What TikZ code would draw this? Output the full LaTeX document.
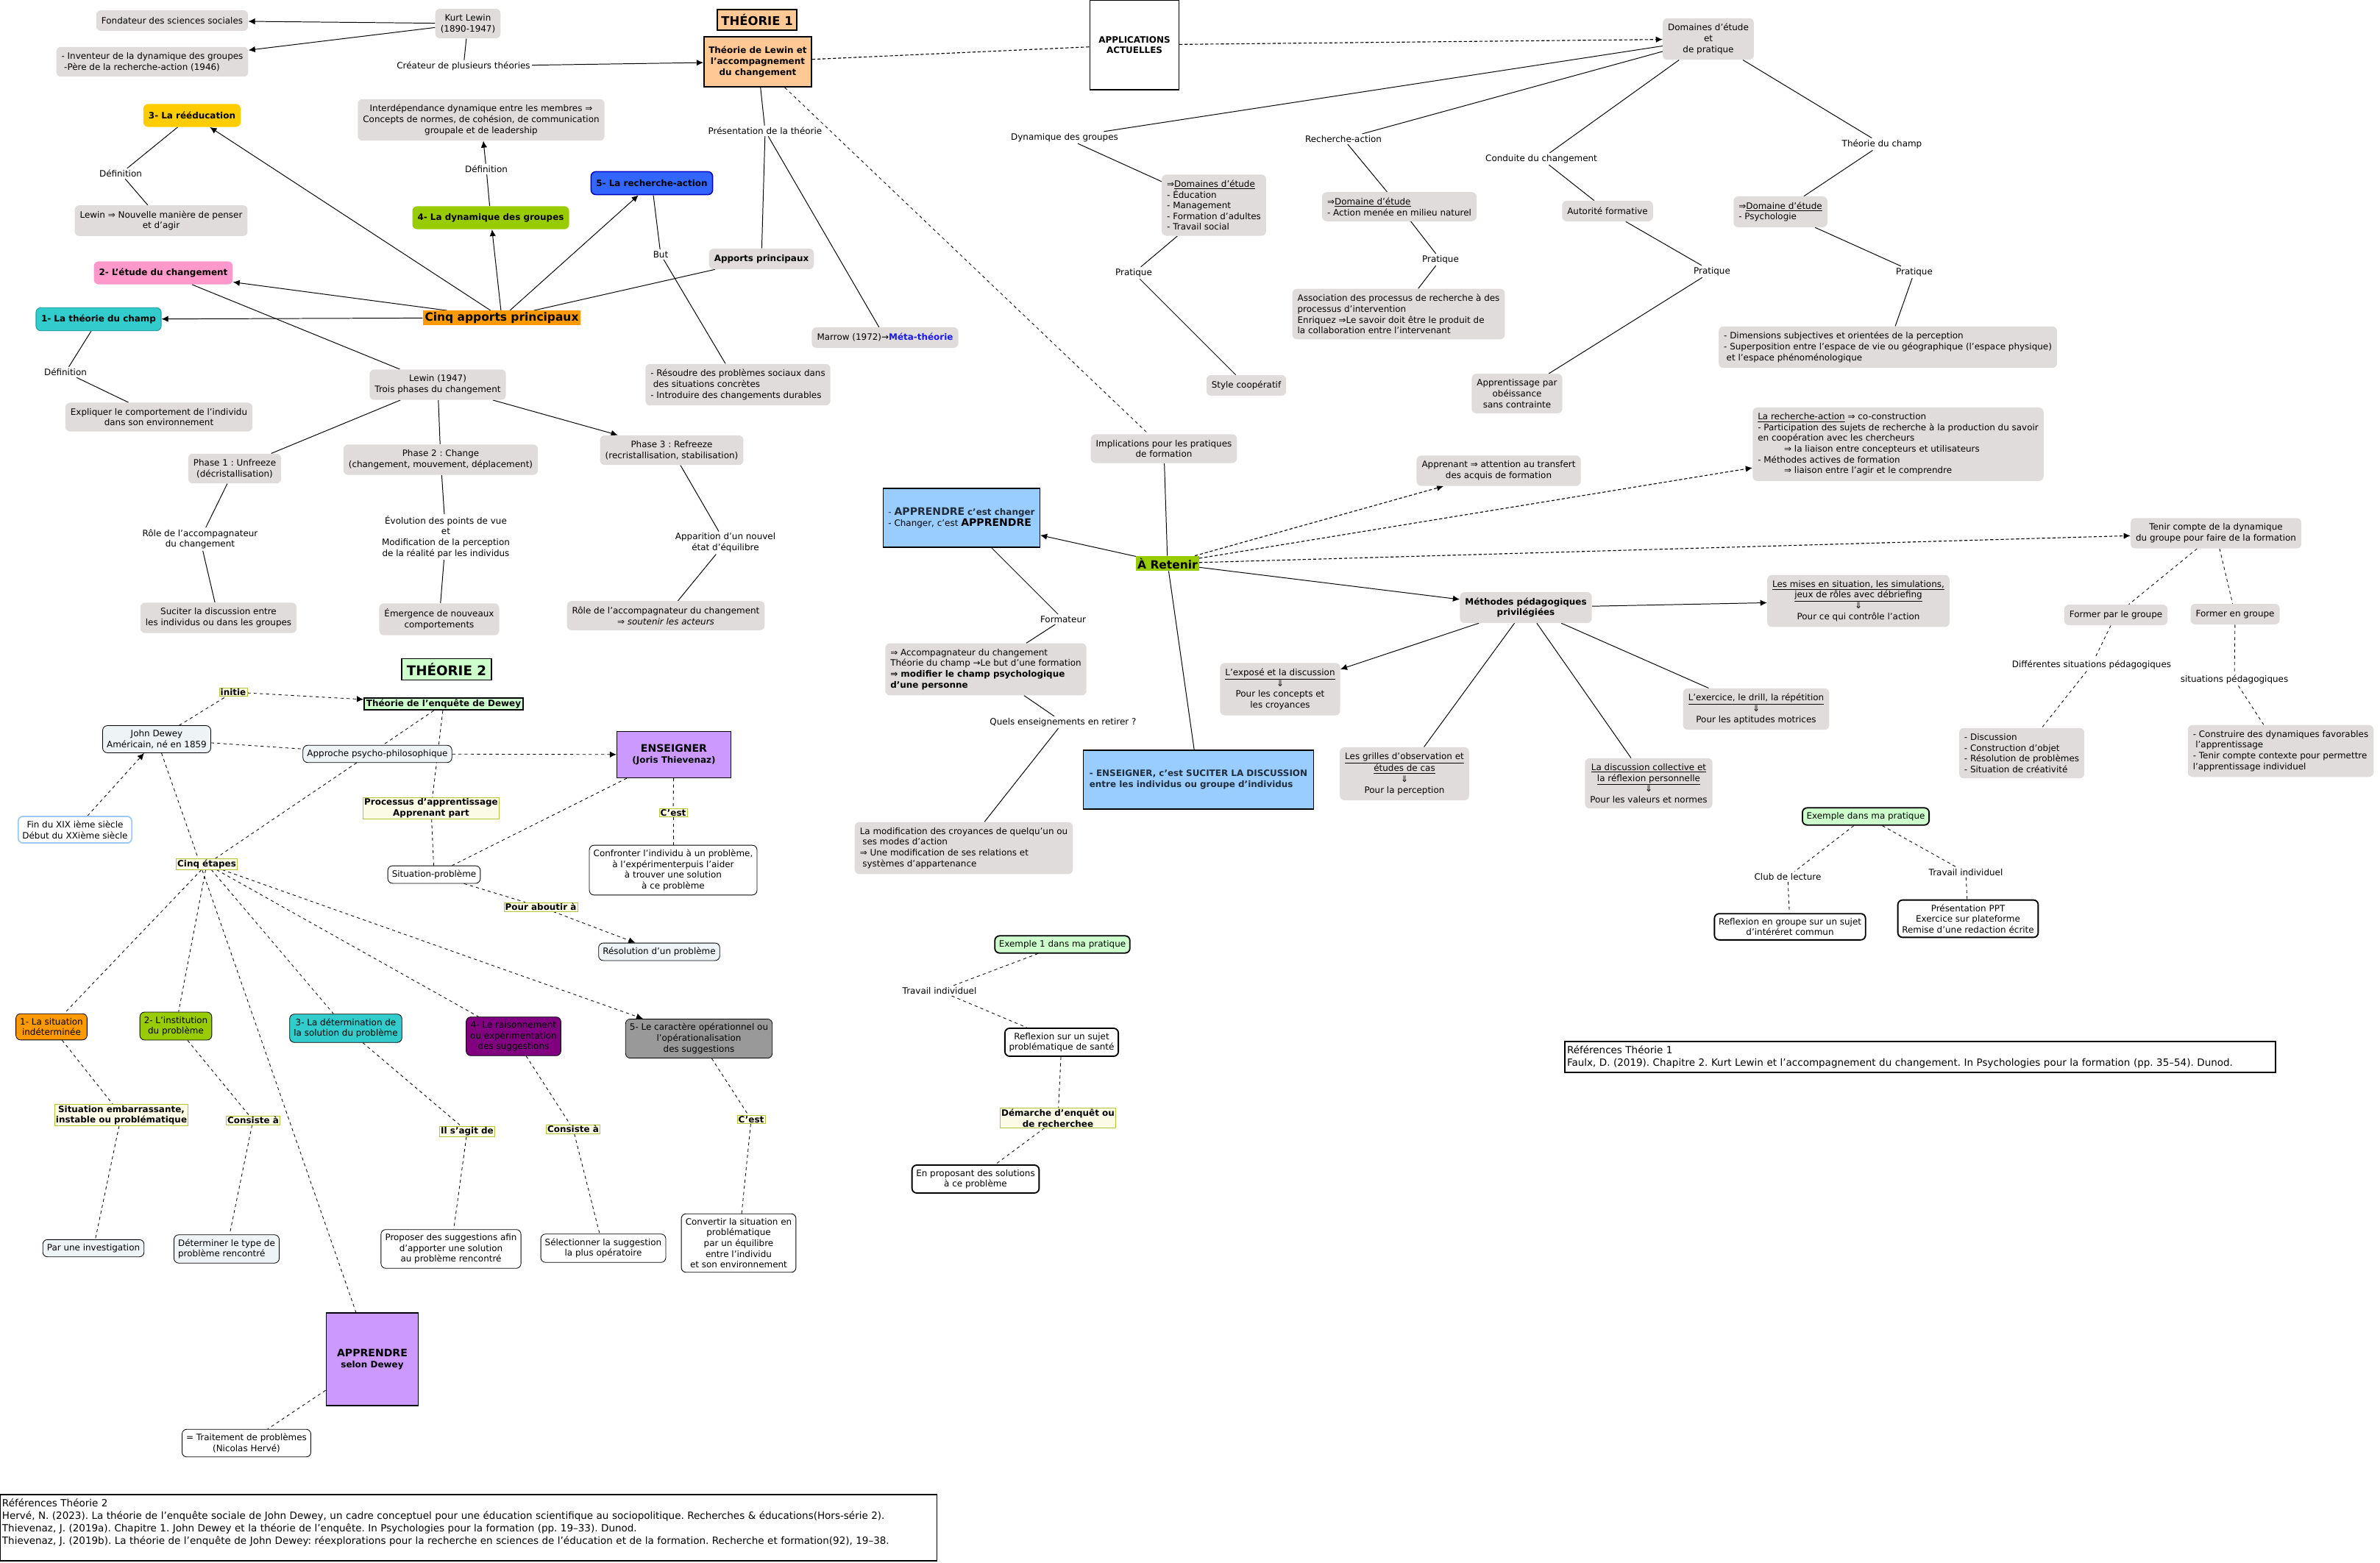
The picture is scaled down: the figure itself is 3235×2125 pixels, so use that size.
\documentclass[tikz,border=0pt]{standalone}
\usepackage{fontspec}
\setmainfont{DejaVu Sans}
\usepackage{xcolor}
\usepackage{tikz}
\usetikzlibrary{positioning,arrows.meta}
\frenchspacing

\pgfdeclarelayer{background}
\pgfsetlayers{background,main}

\definecolor{boxgray}{HTML}{E0DCDC}
\definecolor{peach}{HTML}{FFC895}
\definecolor{orangeT}{HTML}{FF9900}
\definecolor{goldT}{HTML}{FFCC00}
\definecolor{limeT}{HTML}{99CC00}
\definecolor{blueT}{HTML}{3366FF}
\definecolor{pinkT}{HTML}{FF99CC}
\definecolor{tealT}{HTML}{33CCCC}
\definecolor{skyT}{HTML}{99CCFF}
\definecolor{mintT}{HTML}{CCFFCC}
\definecolor{lilacT}{HTML}{CC99FF}
\definecolor{plumT}{HTML}{800080}
\definecolor{greyT}{HTML}{999999}
\definecolor{dewfill}{HTML}{EEF3F5}
\definecolor{tagfill}{HTML}{FCFCE6}
\definecolor{tagline}{HTML}{B4C43C}
\definecolor{metablue}{HTML}{1A1AE6}
\definecolor{inkslate}{HTML}{1F2D3D}
\definecolor{finline}{HTML}{9CC8F0}

\newcommand{\mapfont}{\fontsize{8.5}{10.4}\selectfont}
\newcommand{\mapbig}{\fontsize{11}{13}\selectfont}
\newcommand{\mapappr}{\fontsize{10}{11}\selectfont}
\newcommand{\maptitle}{\fontsize{11.7}{14}\selectfont}
\newcommand{\maptitlel}{\fontsize{13}{15}\selectfont}
\newcommand{\mapref}{\fontsize{9.6}{11.9}\selectfont\frenchspacing}

\tikzset{
  gbox/.style={fill=boxgray, rounded corners=1.6mm, inner xsep=5pt, inner ysep=5.4pt, minimum height=7mm, align=center, font=\mapfont},
  gleft/.style={gbox, align=left},
  keybox/.style={gbox, minimum height=7.8mm, font=\mapfont\bfseries},
  lbl/.style={inner sep=1.5pt, align=center, font=\mapfont},
  tagbox/.style={draw=tagline, fill=tagfill, line width=0.6pt, inner xsep=1.2pt, inner ysep=0.8pt, align=center, font=\mapfont\bfseries},
  wbox/.style={draw, line width=0.6pt, fill=white, rounded corners=1.6mm, inner xsep=4pt, inner ysep=4.2pt, align=center, font=\mapfont},
  dbox/.style={wbox, fill=dewfill},
  stepbox/.style={wbox},
  thickbox/.style={wbox, line width=1.3pt},
  titlebox/.style={draw, line width=1.4pt, inner sep=2pt, align=center, font=\mapfont\bfseries},
  plainbox/.style={draw, line width=0.8pt, align=left, font=\mapfont},
  link/.style={line width=0.7pt},
  dlink/.style={line width=0.6pt, dashed},
  dlinkb/.style={line width=0.8pt, dash pattern=on 3pt off 2pt},
}

\begin{document}
\begin{tikzpicture}[x=0.25mm, y=-0.25mm, >={Latex[length=6.5pt,width=6pt]}]
  \useasboundingbox (0,0) rectangle (3235,2125);

  % Theorie 1 : Lewin
  \node[gbox] (kl) at (636,32) {Kurt Lewin\\(1890-1947)};
  \node[gbox] (fond) at (234,28) {Fondateur des sciences sociales};
  \node[gleft] (inv) at (207,84) {- Inventeur de la dynamique des groupes\\\hspace*{0.3em}-Père de la recherche-action (1946)};
  \node[lbl] (creat) at (630,90) {Créateur de plusieurs théories};
  \node[titlebox, fill=peach, minimum width=27mm, minimum height=7mm, font=\maptitle\bfseries] (tone) at (1029,27) {THÉORIE 1};
  \node[titlebox, fill=peach, minimum width=36.5mm, minimum height=17mm] (tlewin) at (1030,84) {Théorie de Lewin et\\l'accompagnement\\du changement};
  \node[lbl] (presth) at (1040,178) {Présentation de la théorie};
  \node[gbox, font=\mapfont\bfseries] (apports) at (1035,352) {Apports principaux};
  \node[gbox] (marrow) at (1203,459) {Marrow (1972)→\textcolor{metablue}{\bfseries Méta-théorie}};
  \node[fill=orangeT, inner xsep=2pt, inner ysep=1.5pt, font=\mapbig\bfseries] (cinq) at (682,432) {Cinq apports principaux};

  \node[keybox, fill=tealT, draw=tealT!80!black, line width=0.8pt] (champ) at (134,434) {1- La théorie du champ};
  \node[keybox, fill=pinkT] (etude) at (222,371) {2- L’étude du changement};
  \node[keybox, fill=goldT] (reedu) at (261,157) {3- La rééducation};
  \node[keybox, fill=limeT] (dyn) at (667,296) {4- La dynamique des groupes};
  \node[keybox, fill=blueT, draw=blue!75!black, line width=1.1pt] (ract) at (886,249) {5- La recherche-action};

  \node[lbl] (defre) at (164,236) {Définition};
  \node[gbox] (nouv) at (219,300) {Lewin ⇒ Nouvelle manière de penser\\et d’agir};
  \node[lbl] (defdyn) at (661,230) {Définition};
  \node[gbox] (interd) at (654,163) {Interdépendance dynamique entre les membres ⇒\\Concepts de normes, de cohésion, de communication\\groupale et de leadership};
  \node[lbl] (but) at (898,346) {But};
  \node[gleft] (resou) at (1003,523) {- Résoudre des problèmes sociaux dans\\\hspace*{0.3em}des situations concrètes\\- Introduire des changements durables};
  \node[lbl] (defch) at (89,506) {Définition};
  \node[gbox] (expl) at (216,567) {Expliquer le comportement de l’individu\\dans son environnement};

  \node[gbox] (lewsept) at (595,523) {Lewin (1947)\\Trois phases du changement};
  \node[gbox] (phone) at (319,637) {Phase 1 : Unfreeze\\(décristallisation)};
  \node[gbox] (phtwo) at (599,625) {Phase 2 : Change\\(changement, mouvement, déplacement)};
  \node[gbox] (phthree) at (913,612) {Phase 3 : Refreeze\\(recristallisation, stabilisation)};
  \node[lbl] (roleone) at (272,733) {Rôle de l’accompagnateur\\du changement};
  \node[gbox] (suc) at (297,840) {Suciter la discussion entre\\les individus ou dans les groupes};
  \node[lbl] (evol) at (606,730) {Évolution des points de vue\\et\\Modification de la perception\\de la réalité par les individus};
  \node[gbox] (emer) at (597,842) {Émergence de nouveaux\\comportements};
  \node[lbl] (appar) at (986,738) {Apparition d'un nouvel\\état d’équilibre};
  \node[gbox] (rolethree) at (905,837) {Rôle de l’accompagnateur du changement\\⇒ \textit{soutenir les acteurs}};

  % Applications actuelles
  \node[draw, line width=0.8pt, fill=white, align=center, font=\mapfont\bfseries, minimum width=30.25mm, minimum height=30.5mm] (appl) at (1542,61) {APPLICATIONS\\ACTUELLES};
  \node[gbox] (dom) at (2322,53) {Domaines d’étude\\et\\de pratique};
  \node[lbl] (ldyn) at (1447,187) {Dynamique des groupes};
  \node[gleft] (doms) at (1650,279) {⇒\underline{Domaines d'étude}\\- Éducation\\- Management\\- Formation d’adultes\\- Travail social};
  \node[lbl] (pratone) at (1541,371) {Pratique};
  \node[gbox] (style) at (1694,524) {Style coopératif};
  \node[lbl] (lrech) at (1826,189) {Recherche-action};
  \node[gleft] (domra) at (1902,281) {⇒\underline{Domaine d'étude}\\- Action menée en milieu naturel};
  \node[lbl] (prattwo) at (1958,353) {Pratique};
  \node[gleft] (assoc) at (1901,427) {Association des processus de recherche à des\\processus d’intervention\\Enriquez ⇒Le savoir doit être le produit de\\la collaboration entre l’intervenant};
  \node[lbl] (lcond) at (2095,216) {Conduite du changement};
  \node[gbox] (autor) at (2185,287) {Autorité formative};
  \node[lbl] (pratthree) at (2327,369) {Pratique};
  \node[gbox] (obeis) at (2062,535) {Apprentissage par\\obéissance\\sans contrainte};
  \node[lbl] (lchamp) at (2558,196) {Théorie du champ};
  \node[gleft] (dompsy) at (2420,288) {⇒\underline{Domaine d'étude}\\- Psychologie};
  \node[lbl] (pratfour) at (2602,370) {Pratique};
  \node[gleft] (dimens) at (2566,472) {- Dimensions subjectives et orientées de la perception\\- Superposition entre l’espace de vie ou géographique (l’espace physique)\\\hspace*{0.3em}et l’espace phénoménologique};

  % A retenir
  \node[gbox] (impl) at (1582,610) {Implications pour les pratiques\\de formation};
  \node[fill=limeT, inner xsep=1.5pt, inner ysep=2pt, font=\mapbig\bfseries] (retenir) at (1587,766) {À Retenir};
  \node[draw, line width=0.8pt, fill=skyT, minimum width=53.25mm, minimum height=20mm, align=left, inner xsep=1.5pt, font=\mapfont] (apprchg) at (1307,704) {\textcolor{inkslate}{- \textbf{\mapappr APPRENDRE} \textbf{c’est changer}}\\- Changer, c’est \textbf{\mapappr APPRENDRE}};
  \node[gbox] (apprenant) at (2037,640) {Apprenant ⇒ attention au transfert\\des acquis de formation};
  \node[gleft] (rechco) at (2580,604) {\underline{La recherche-action} ⇒ co-construction\\- Participation des sujets de recherche à la production du savoir\\en coopération avec les chercheurs\\\hspace*{3em}⇒ la liaison entre concepteurs et utilisateurs\\- Méthodes actives de formation\\\hspace*{3em}⇒ liaison entre l’agir et le comprendre};
  \node[gbox] (tenir) at (3012,725) {Tenir compte de la dynamique\\du groupe pour faire de la formation};
  \node[gbox, font=\mapfont\bfseries] (methodes) at (2074,826) {Méthodes pédagogiques\\privilégiées};
  \node[lbl] (formateur) at (1445,842) {Formateur};
  \node[gleft] (accomp) at (1340,910) {⇒ Accompagnateur du changement\\Théorie du champ →Le but d’une formation\\\textbf{⇒ modifier le champ psychologique}\\\textbf{d’une personne}};
  \node[lbl] (quels) at (1445,982) {Quels enseignements en retirer ?};
  \node[gleft] (modif) at (1310,1153) {La modification des croyances de quelqu’un ou\\\hspace*{0.3em}ses modes d’action\\⇒ Une modification de ses relations et\\\hspace*{0.3em}systèmes d’appartenance};
  \node[draw, line width=0.8pt, fill=skyT, minimum width=78.25mm, minimum height=20mm, align=left, inner xsep=1.5pt, font=\mapfont\bfseries, text=inkslate] (enseigdisc) at (1629,1060) {- ENSEIGNER, c’est SUCITER LA DISCUSSION\\entre les individus ou groupe d’individus};
  \node[gbox] (expose) at (1740,937) {\underline{L’exposé et la discussion}\\⇓\\Pour les concepts et\\les croyances};
  \node[gbox] (grilles) at (1909,1052) {\underline{Les grilles d’observation et}\\\underline{études de cas}\\⇓\\Pour la perception};
  \node[gbox] (discoll) at (2241,1065) {\underline{La discussion collective et}\\\underline{la réflexion personnelle}\\⇓\\Pour les valeurs et normes};
  \node[gbox] (exerc) at (2387,964) {\underline{L’exercice, le drill, la répétition}\\⇓\\Pour les aptitudes motrices};
  \node[gbox] (mises) at (2526,817) {\underline{Les mises en situation, les simulations,}\\\underline{jeux de rôles avec débriefing}\\⇓\\Pour ce qui contrôle l’action};
  \node[gbox] (fparg) at (2876,836) {Former par le groupe};
  \node[gbox] (fen) at (3038,835) {Former en groupe};
  \node[lbl] (ldiff) at (2843,904) {Différentes situations pédagogiques};
  \node[lbl] (lsit) at (3037,924) {situations pédagogiques};
  \node[gleft] (discu) at (2748,1024) {- Discussion\\- Construction d’objet\\- Résolution de problèmes\\- Situation de créativité};
  \node[gleft] (constr) at (3100,1021) {- Construire des dynamiques favorables\\\hspace*{0.3em}l’apprentissage\\- Tenir compte contexte pour permettre\\l’apprentissage individuel};
  \node[thickbox, fill=mintT] (exemple) at (2536,1110) {Exemple dans ma pratique};
  \node[lbl] (lclub) at (2430,1192) {Club de lecture};
  \node[thickbox] (refgrp) at (2433,1260) {Reflexion en groupe sur un sujet\\d'intéréret commun};
  \node[lbl] (ltrav) at (2672,1186) {Travail individuel};
  \node[thickbox] (pptx) at (2675,1249) {Présentation PPT\\Exercice sur plateforme\\Remise d'une redaction écrite};
  \node[plainbox, line width=1.2pt, font=\mapref, inner xsep=2pt, inner ysep=2pt, text width=240mm, minimum height=10.5mm] (refone) at (2610,1437) {Références Théorie 1\\Faulx, D. (2019). Chapitre 2. Kurt Lewin et l’accompagnement du changement. In Psychologies pour la formation (pp. 35–54). Dunod.};

  % Theorie 2 : Dewey
  \node[titlebox, fill=mintT, minimum width=30.5mm, minimum height=7.25mm, font=\maptitlel\bfseries] (ttwo) at (607,910) {THÉORIE 2};
  \node[titlebox, fill=mintT, inner xsep=2pt, inner ysep=1.5pt] (tdewey) at (603,957) {Théorie de l'enquête de Dewey};
  \node[tagbox] (initie) at (317,941) {initie};
  \node[dbox] (jdewey) at (213,1005) {John Dewey\\Américain, né en 1859};
  \node[dbox] (approche) at (513,1025) {Approche psycho-philosophique};
  \node[wbox, draw=finline, line width=1.2pt] (fin) at (102,1128) {Fin du XIX ième siècle\\Début du XXième siècle};
  \node[tagbox] (process) at (586,1099) {Processus d'apprentissage\\Apprenant part};
  \node[wbox] (sitpb) at (590,1189) {Situation-problème};
  \node[draw, line width=0.8pt, fill=lilacT, minimum width=38.75mm, minimum height=15.75mm, align=center, font=\mapfont\bfseries] (enseign) at (916,1026) {{\mapappr ENSEIGNER}\\(Joris Thievenaz)};
  \node[tagbox] (cestone) at (915,1105) {C'est};
  \node[wbox] (confr) at (915,1183) {Confronter l'individu à un problème,\\à l'expérimenterpuis l'aider\\à trouver une solution\\à ce problème};
  \node[tagbox] (pourab) at (735,1233) {Pour aboutir à};
  \node[dbox] (resol) at (896,1294) {Résolution d'un problème};
  \node[tagbox] (cinqet) at (281,1175) {Cinq étapes};

  \node[stepbox, fill=orangeT] (sone) at (70,1396) {1- La situation\\indéterminée};
  \node[stepbox, fill=limeT] (stwo) at (239,1395) {2- L’institution\\du problème};
  \node[stepbox, fill=tealT] (sthree) at (470,1398) {3- La détermination de\\la solution du problème};
  \node[stepbox, fill=plumT] (sfour) at (698,1409) {4- Le raisonnement\\ou expérimentation\\des suggestions};
  \node[stepbox, fill=greyT] (sfive) at (950,1412) {5- Le caractère opérationnel ou\\l'opérationalisation\\des suggestions};
  \node[tagbox] (tsit) at (165,1516) {Situation embarrassante,\\instable ou problématique};
  \node[tagbox] (constwo) at (344,1523) {Consiste à};
  \node[tagbox] (ilsag) at (635,1538) {Il s'agit de};
  \node[tagbox] (consfour) at (779,1535) {Consiste à};
  \node[tagbox] (cestfive) at (1021,1522) {C'est};
  \node[dbox] (invest) at (127,1697) {Par une investigation};
  \node[dbox, align=left] (determ) at (308,1698) {Déterminer le type de\\problème rencontré};
  \node[wbox] (propos) at (613,1698) {Proposer des suggestions afin\\d’apporter une solution\\au problème rencontré};
  \node[wbox] (select) at (820,1697) {Sélectionner la suggestion\\la plus opératoire};
  \node[wbox] (convert) at (1004,1690) {Convertir la situation en\\problématique\\par un équilibre\\entre l'individu\\et son environnement};
  \node[titlebox, fill=lilacT, minimum width=31.25mm, minimum height=31.5mm] (apprdew) at (506,1848) {{\mapappr APPRENDRE}\\selon Dewey};
  \node[wbox] (trait) at (335,1962) {= Traitement de problèmes\\(Nicolas Hervé)};

  \node[thickbox, fill=mintT] (exone) at (1444,1284) {Exemple 1 dans ma pratique};
  \node[lbl] (ltravone) at (1277,1347) {Travail individuel};
  \node[thickbox] (refsan) at (1443,1417) {Reflexion sur un sujet\\problématique de santé};
  \node[tagbox] (demar) at (1438,1520) {Démarche d'enquêt ou\\de recherchee};
  \node[thickbox] (enprop) at (1326,1603) {En proposant des solutions\\à ce problème};

  \node[plainbox, font=\mapref, inner xsep=2pt, inner ysep=1.5pt, text width=317mm, minimum height=22.5mm] (reftwo) at (637,2077) {Références Théorie 2\\Hervé, N. (2023). La théorie de l’enquête sociale de John Dewey, un cadre conceptuel pour une éducation scientifique au sociopolitique. Recherches \& éducations(Hors-série 2).\\Thievenaz, J. (2019a). Chapitre 1. John Dewey et la théorie de l’enquête. In Psychologies pour la formation (pp. 19–33). Dunod.\\Thievenaz, J. (2019b). La théorie de l’enquête de John Dewey: réexplorations pour la recherche en sciences de l’éducation et de la formation. Recherche et formation(92), 19–38.\\\mbox{}};

  \begin{pgfonlayer}{background}
    % Lewin
    \draw[link, ->] (kl) -- (fond);
    \draw[link, ->] (kl) -- (inv);
    \draw[link] (kl) -- (creat);
    \draw[link, ->] (creat) -- (tlewin);
    \draw[link] (tlewin) -- (presth);
    \draw[link] (presth) -- (apports);
    \draw[link] (presth) -- (marrow);
    \draw[link] (apports) -- (cinq);
    \draw[link, ->] (cinq) -- (champ);
    \draw[link, ->] (cinq) -- (etude);
    \draw[link, ->] (cinq) -- (reedu);
    \draw[link, ->] (cinq) -- (dyn);
    \draw[link, ->] (cinq) -- (ract);
    \draw[link] (reedu) -- (defre);
    \draw[link] (defre) -- (nouv);
    \draw[link] (dyn) -- (defdyn);
    \draw[link, ->] (defdyn) -- (interd);
    \draw[link] (ract) -- (but);
    \draw[link] (but) -- (resou);
    \draw[link] (champ) -- (defch);
    \draw[link] (defch) -- (expl);
    \draw[link] (etude) -- (lewsept);
    \draw[link] (lewsept) -- (phone);
    \draw[link] (lewsept) -- (phtwo);
    \draw[link, ->] (lewsept) -- (phthree);
    \draw[link] (phone) -- (roleone);
    \draw[link] (roleone) -- (suc);
    \draw[link] (phtwo) -- (evol);
    \draw[link] (evol) -- (emer);
    \draw[link] (phthree) -- (appar);
    \draw[link] (appar) -- (rolethree);

    % Applications
    \draw[dlinkb] (tlewin) -- (appl);
    \draw[dlinkb, ->] (appl) -- (dom);
    \draw[dlink] (tlewin) -- (impl);
    \draw[link] (dom) -- (ldyn);
    \draw[link] (ldyn) -- (doms);
    \draw[link] (doms) -- (pratone);
    \draw[link] (pratone) -- (style);
    \draw[link] (dom) -- (lrech);
    \draw[link] (lrech) -- (domra);
    \draw[link] (domra) -- (prattwo);
    \draw[link] (prattwo) -- (assoc);
    \draw[link] (dom) -- (lcond);
    \draw[link] (lcond) -- (autor);
    \draw[link] (autor) -- (pratthree);
    \draw[link] (pratthree) -- (obeis);
    \draw[link] (dom) -- (lchamp);
    \draw[link] (lchamp) -- (dompsy);
    \draw[link] (dompsy) -- (pratfour);
    \draw[link] (pratfour) -- (dimens);

    % A retenir
    \draw[link] (impl) -- (retenir);
    \draw[link, ->] (retenir) -- (apprchg);
    \draw[dlinkb, ->] (retenir) -- (apprenant);
    \draw[dlinkb, ->] (retenir) -- (rechco);
    \draw[dlinkb, ->] (retenir) -- (tenir);
    \draw[link, ->] (retenir) -- (methodes);
    \draw[link] (retenir) -- (enseigdisc);
    \draw[link] (apprchg) -- (formateur);
    \draw[link] (formateur) -- (accomp);
    \draw[link] (accomp) -- (quels);
    \draw[link] (quels) -- (modif);
    \draw[link, ->] (methodes) -- (expose);
    \draw[link] (methodes) -- (grilles);
    \draw[link] (methodes) -- (discoll);
    \draw[link] (methodes) -- (exerc);
    \draw[link, ->] (methodes) -- (mises);
    \draw[dlink] (tenir) -- (fparg);
    \draw[dlink] (tenir) -- (fen);
    \draw[dlink] (fparg) -- (ldiff);
    \draw[dlink] (ldiff) -- (discu);
    \draw[dlink] (fen) -- (lsit);
    \draw[dlink] (lsit) -- (constr);
    \draw[dlink] (exemple) -- (lclub);
    \draw[dlink] (lclub) -- (refgrp);
    \draw[dlink] (exemple) -- (ltrav);
    \draw[dlink] (ltrav) -- (pptx);

    % Dewey
    \draw[dlink] (jdewey) -- (initie);
    \draw[dlink, ->] (initie) -- (tdewey);
    \draw[dlink] (jdewey) -- (approche);
    \draw[dlink, ->] (approche) -- (enseign);
    \draw[dlink] (tdewey) -- (cinqet);
    \draw[dlink] (tdewey) -- (process);
    \draw[dlink] (process) -- (sitpb);
    \draw[dlink] (enseign) -- (sitpb);
    \draw[dlink] (enseign) -- (cestone);
    \draw[dlink] (cestone) -- (confr);
    \draw[dlink] (sitpb) -- (pourab);
    \draw[dlink, ->] (pourab) -- (resol);
    \draw[dlink, ->] (fin) -- (jdewey);
    \draw[dlink] (jdewey) -- (apprdew);
    \draw[dlink] (cinqet) -- (sone);
    \draw[dlink] (cinqet) -- (stwo);
    \draw[dlink] (cinqet) -- (sthree);
    \draw[dlink] (cinqet) -- (sfour);
    \draw[dlink, ->] (cinqet) -- (sfive);
    \draw[dlink] (sone) -- (tsit);
    \draw[dlink] (tsit) -- (invest);
    \draw[dlink] (stwo) -- (constwo);
    \draw[dlink] (constwo) -- (determ);
    \draw[dlink] (sthree) -- (ilsag);
    \draw[dlink] (ilsag) -- (propos);
    \draw[dlink] (sfour) -- (consfour);
    \draw[dlink] (consfour) -- (select);
    \draw[dlink] (sfive) -- (cestfive);
    \draw[dlink] (cestfive) -- (convert);
    \draw[dlink] (apprdew) -- (trait);
    \draw[dlink] (exone) -- (ltravone);
    \draw[dlink] (ltravone) -- (refsan);
    \draw[dlink] (refsan) -- (demar);
    \draw[dlink] (demar) -- (enprop);
  \end{pgfonlayer}
\end{tikzpicture}
\end{document}
